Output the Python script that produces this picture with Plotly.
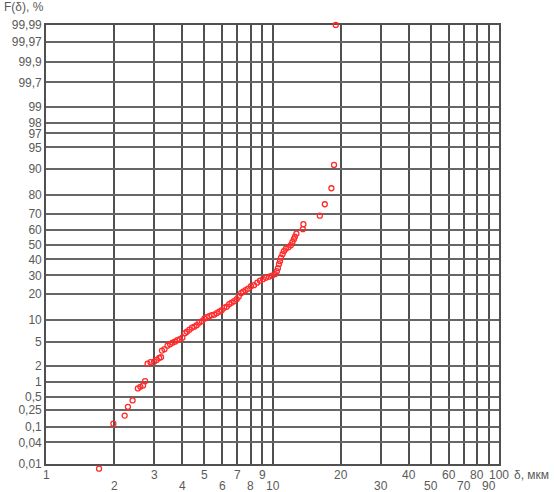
import math
from statistics import NormalDist
import plotly.graph_objects as go

# Particle size δ, мкм and cumulative distribution F(δ), %
delta_um = [1.715, 1.984, 2.225, 2.30, 2.412, 2.545, 2.61, 2.683, 2.738, 2.808,
            2.894, 3.0, 3.083, 3.16, 3.22, 3.25, 3.335, 3.44, 3.53, 3.62,
            3.71, 3.80, 3.90, 4.00, 4.11, 4.19, 4.30, 4.41, 4.52, 4.63,
            4.75, 4.88, 5.00, 5.13, 5.26, 5.39, 5.53, 5.67, 5.82, 5.97,
            6.12, 6.28, 6.44, 6.60, 6.77, 6.95, 7.09, 7.27, 7.42, 7.61,
            7.80, 8.04, 8.29, 8.55, 8.81, 9.08, 9.36, 9.65, 9.95, 10.26,
            10.46, 10.57, 10.68, 10.79, 10.90, 11.07, 11.23, 11.46, 11.76, 12.06,
            12.24, 12.43, 12.56, 12.75, 13.62, 13.69, 16.18, 17.02, 18.2, 18.69,
            19.02]
F_pct = [0.0073, 0.12, 0.187, 0.298, 0.412, 0.737, 0.795, 0.847, 1.03, 2.17,
         2.31, 2.36, 2.53, 2.73, 2.81, 3.61, 3.81, 4.33, 4.56, 4.82,
         4.99, 5.25, 5.43, 5.73, 6.66, 6.99, 7.45, 7.94, 8.20, 8.58,
         9.27, 9.70, 10.44, 10.92, 11.24, 11.56, 11.72, 12.24, 12.76, 13.3,
         14.23, 14.61, 15.6, 16.2, 16.85, 17.71, 18.83, 20.48, 21.2, 21.95,
         22.7, 24.0, 24.53, 25.88, 26.99, 27.84, 28.7, 29.28, 29.86, 30.75,
         32.56, 34.4, 36.93, 38.87, 41.16, 43.47, 45.48, 47.17, 48.18, 49.5,
         51.55, 53.57, 55.25, 57.26, 60.22, 63.45, 68.71, 75.25, 82.98, 91.12,
         99.99]

y_tick_values = [0.01, 0.04, 0.1, 0.25, 0.5, 1, 2, 5, 10, 20, 30, 40, 50, 60,
                 70, 80, 90, 95, 97, 98, 99, 99.7, 99.9, 99.97, 99.99]
y_tick_labels = ["0,01", "0,04", "0,1", "0,25", "0,5", "1", "2", "5", "10", "20",
                 "30", "40", "50", "60", "70", "80", "90", "95", "97", "98",
                 "99", "99,7", "99,9", "99,97", "99,99"]
x_grid_values = [1, 2, 3, 4, 5, 6, 7, 8, 9, 10, 20, 30, 40, 50, 60, 70, 80, 90, 100]
x_labels_top = [1, 3, 5, 7, 9, 20, 40, 60, 80, 100]
x_labels_bottom = [2, 4, 6, 8, 10, 30, 50, 70, 90]

nd = NormalDist()


def probit(p):
    return nd.inv_cdf(p / 100.0)


FONT = "Liberation Sans, Arial, sans-serif"
TXT = "#5a5a5a"
GRID = "#666666"

W, H = 554, 492
M_L, M_R, M_T = 44, 55, 25
FRAME_BOTTOM = 464          # pixel row of the 0,01 line
EXTRA = 8                   # room below the frame for points under 0,01
M_B = H - FRAME_BOTTOM - EXTRA
plot_h = H - M_T - M_B
main_dom = EXTRA / plot_h

y_lo, y_hi = probit(y_tick_values[0]), probit(y_tick_values[-1])
span = y_hi - y_lo
y2_lo = y_lo - EXTRA * span / (plot_h - EXTRA)

fig = go.Figure()
# invisible helper trace so the main (grid) subplot exists
fig.add_trace(go.Scatter(x=[None], y=[None], xaxis="x", yaxis="y",
                         showlegend=False, hoverinfo="skip"))
fig.add_trace(go.Scatter(
    x=delta_um,
    y=[probit(v) for v in F_pct],
    xaxis="x2", yaxis="y2",
    mode="markers",
    marker=dict(symbol="circle-open", size=5, color="#ff2a2a",
                line=dict(width=1.3, color="#ff2a2a")),
    cliponaxis=False,
    hoverinfo="skip",
    showlegend=False,
))

annotations = []
for v in x_labels_top:
    annotations.append(dict(x=math.log10(v), y=0, xref="x", yref="y domain",
                            text=str(v), showarrow=False, yanchor="top",
                            yshift=-2, font=dict(family=FONT, size=12, color=TXT)))
for v in x_labels_bottom:
    annotations.append(dict(x=math.log10(v), y=0, xref="x", yref="y domain",
                            text=str(v), showarrow=False, yanchor="top",
                            yshift=-13, font=dict(family=FONT, size=12, color=TXT)))
annotations.append(dict(x=1.0, y=0, xref="x domain", yref="y domain", text="δ, мкм",
                        showarrow=False, xanchor="left", yanchor="top", xshift=13,
                        yshift=-2, font=dict(family=FONT, size=12, color=TXT)))
annotations.append(dict(x=0, y=1, xref="x domain", yref="y domain", text="F(δ), %",
                        showarrow=False, xanchor="right", yanchor="bottom", xshift=0,
                        yshift=9, font=dict(family=FONT, size=12, color=TXT)))

fig.update_layout(
    width=W, height=H,
    margin=dict(l=M_L, r=M_R, t=M_T, b=M_B),
    paper_bgcolor="white", plot_bgcolor="rgba(0,0,0,0)",
    font=dict(family=FONT, size=12, color=TXT),
    annotations=annotations,
    xaxis=dict(type="log", range=[0, 2], tickvals=x_grid_values, domain=[0, 1],
               showticklabels=False, ticks="", showgrid=True,
               gridcolor="#505050", gridwidth=1.6, zeroline=False,
               showline=True, linecolor="#505050", linewidth=1.6, mirror=True),
    yaxis=dict(range=[y_lo, y_hi], domain=[main_dom, 1],
               tickvals=[probit(v) for v in y_tick_values], ticktext=y_tick_labels,
               ticks="", showgrid=True, gridcolor=GRID, gridwidth=1.6,
               zeroline=False, showline=True, linecolor="#505050", linewidth=1.6,
               mirror=True, tickfont=dict(family=FONT, size=12, color=TXT)),
    xaxis2=dict(type="log", range=[0, 2], domain=[0, 1], anchor="y2",
                showticklabels=False, ticks="", showgrid=False, zeroline=False,
                showline=False),
    yaxis2=dict(range=[y2_lo, y_hi], domain=[0, 1], anchor="x2",
                showticklabels=False, ticks="", showgrid=False, zeroline=False,
                showline=False),
)

fig.write_html("out.html", config={"displayModeBar": False},
               post_script="document.body.style.margin='0';document.body.style.overflow='hidden';")
